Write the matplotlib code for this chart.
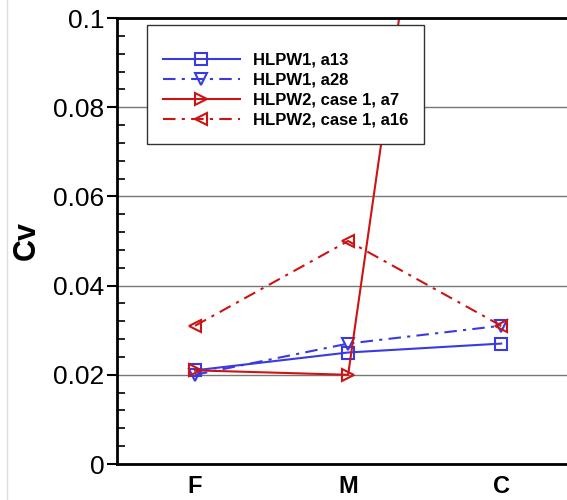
import numpy as np
import matplotlib
matplotlib.use("Agg")
import matplotlib.pyplot as plt
from matplotlib.lines import Line2D
from matplotlib.ticker import MultipleLocator

plt.rcParams['font.family'] = ['Liberation Sans', 'DejaVu Sans']

categories = ["F", "M", "C"]
labels = ["HLPW1, a13", "HLPW1, a28", "HLPW2, case 1, a7", "HLPW2, case 1, a16"]
a13 = [0.021, 0.025, 0.027]
a28 = [0.020, 0.027, 0.031]
a7 = [0.021, 0.020, 0.26]   # goes far off the top at C
a16 = [0.031, 0.050, 0.031]

blue = "#3a3ae0"
red = "#cc1414"

fig = plt.figure(figsize=(5.67, 5.0), dpi=100)
ax = fig.add_axes([117 / 567, 36 / 500, 450 / 567, 446 / 500])

x = np.arange(len(categories))
ms = 9
ax.plot(x, a13, color=blue, lw=1.5, ls="-", marker="s", ms=ms, mfc="none", mew=1.5, label=labels[0])
ax.plot(x, a28, color=blue, lw=1.5, ls=(0, (6, 3, 1.5, 3)), marker="v", ms=ms, mfc="none", mew=1.5, label=labels[1])
ax.plot(x, a7, color=red, lw=1.5, ls="-", marker=">", ms=ms, mfc="none", mew=1.5, label=labels[2])
ax.plot(x, a16, color=red, lw=1.5, ls=(0, (6, 3, 1.5, 3)), marker="<", ms=ms, mfc="none", mew=1.5, label=labels[3])

ax.set_xlim(-0.51, 2.43)
ax.set_ylim(0, 0.1)
ax.set_xticks(x)
ax.set_xticklabels(categories, fontsize=17, fontweight="bold")
ax.tick_params(axis="x", length=0, pad=8)
ax.yaxis.set_minor_locator(MultipleLocator(0.004))
ax.set_yticks([0, 0.02, 0.04, 0.06, 0.08, 0.1])
ax.set_yticklabels(["0", "0.02", "0.04", "0.06", "0.08", "0.1"])
ax.tick_params(axis="y", which="major", direction="out", length=7, width=1.5, labelsize=19, pad=2)
ax.tick_params(axis="y", which="minor", direction="in", length=6, width=1.2)
ax.yaxis.grid(True, which="major", color="#777777", lw=1.0)
ax.set_axisbelow(True)
for s in ["left", "bottom", "top"]:
    ax.spines[s].set_linewidth(2.0)
ax.spines["right"].set_visible(False)
ax.set_ylabel("Cv", fontsize=22, fontweight="bold", labelpad=8)

leg = ax.legend(loc="upper left", bbox_to_anchor=(0.0667, 0.984), borderaxespad=0,
                prop={"size": 12, "weight": "bold"}, handlelength=4.6, handletextpad=0.8,
                labelspacing=0.3, borderpad=0.95, title=" ", title_fontsize=5,
                fancybox=False, framealpha=1, edgecolor="#333333")
leg.get_frame().set_linewidth(1.0)

fig.add_artist(Line2D([7 / 567, 7 / 567], [0, 1], color="#dddddd", lw=1))

fig.savefig("out.png", dpi=100)
